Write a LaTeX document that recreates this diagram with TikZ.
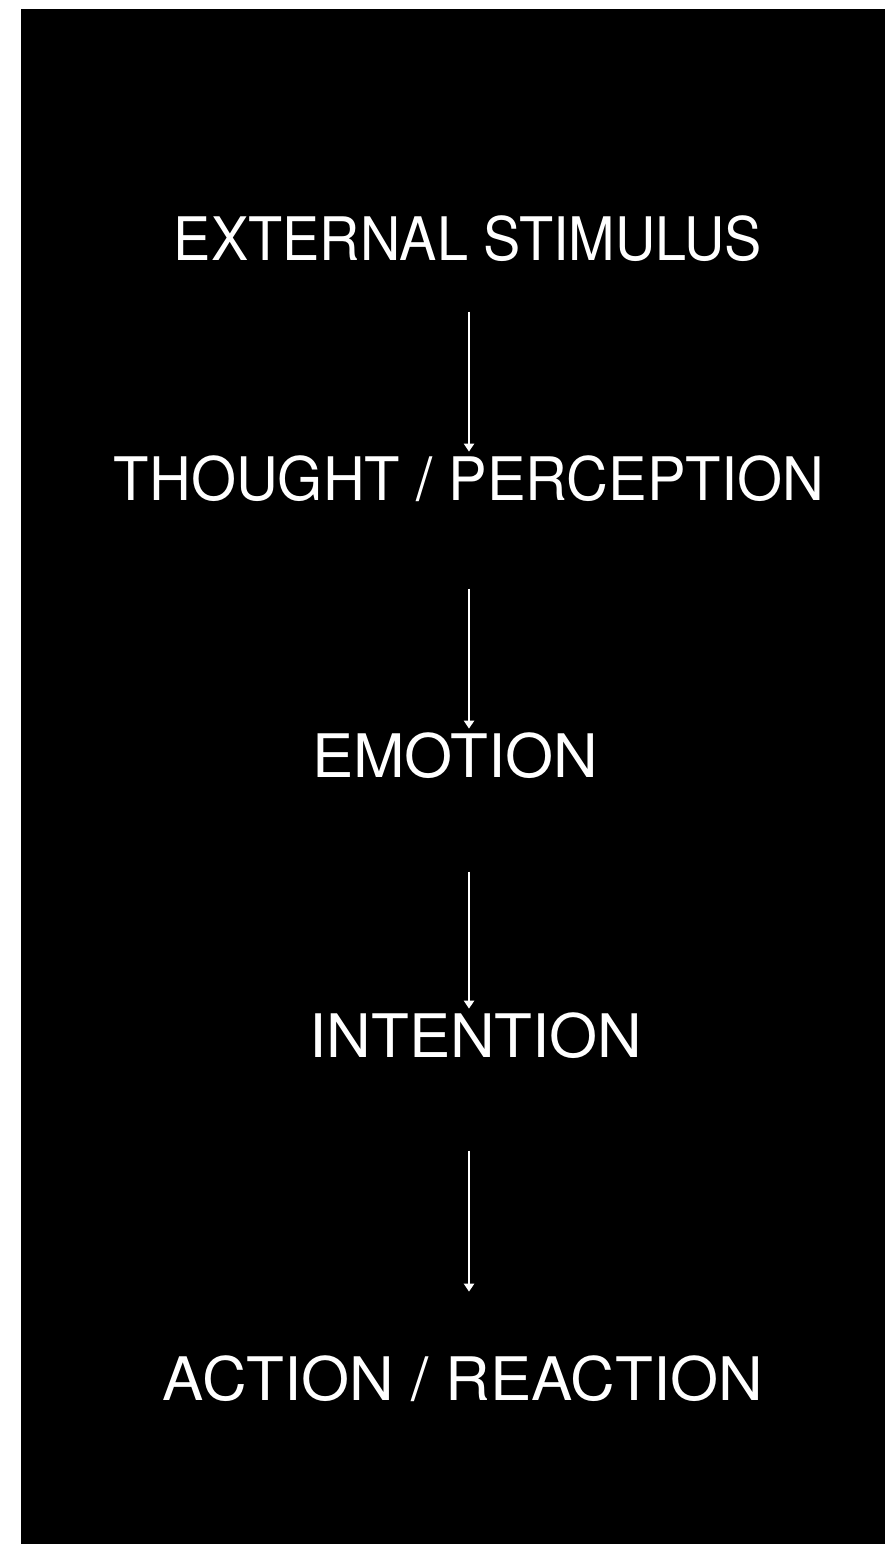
\documentclass[tikz,border=0pt]{standalone}
\usepackage{fontspec}
\setmainfont{TeX Gyre Heros}
\usepackage{tikz}
\usetikzlibrary{arrows.meta}

\begin{document}
\begin{tikzpicture}[
      x=1pt, y=-1pt,
      stage/.style={text=white, anchor=base, inner sep=3.3pt,
                    font=\fontsize{60}{60}\selectfont},
      arr/.style={-{Triangle[width=10pt,length=8pt]}, white, line width=2.5pt}
    ]
    % Frame
    \useasboundingbox (0,0) rectangle (885,1544);
    \fill[black] (21,9) rectangle (885,1544);
    % Nodes
    \node[stage] (ext)     at (468,260)  {\scalebox{0.93}[1]{EXTERNAL STIMULUS}};
    \node[stage] (thought) at (469,500)  {\scalebox{0.965}[1]{THOUGHT / PERCEPTION}};
    \node[stage] (emo)     at (455,777)  {\scalebox{1.03}[1]{EMOTION}};
    \node[stage] (intent)  at (476,1057) {\scalebox{1.03}[1]{INTENTION}};
    \node[stage] (act)     at (463,1400) {\scalebox{1.03}[1]{ACTION / REACTION}};
    % Arrows
    \draw[arr] ([yshift=-47pt]ext.south -| thought.north) -- (thought.north);
    \draw[arr] ([yshift=-84pt]thought.south) -- (thought.south |- emo.north);
    \draw[arr] ([yshift=-90pt]emo.south -| thought.south) -- (thought.south |- intent.north);
    \draw[arr] ([yshift=-89pt]intent.south -| thought.south)
               -- ([yshift=60pt]act.north -| thought.south);
  \end{tikzpicture}
\end{document}
